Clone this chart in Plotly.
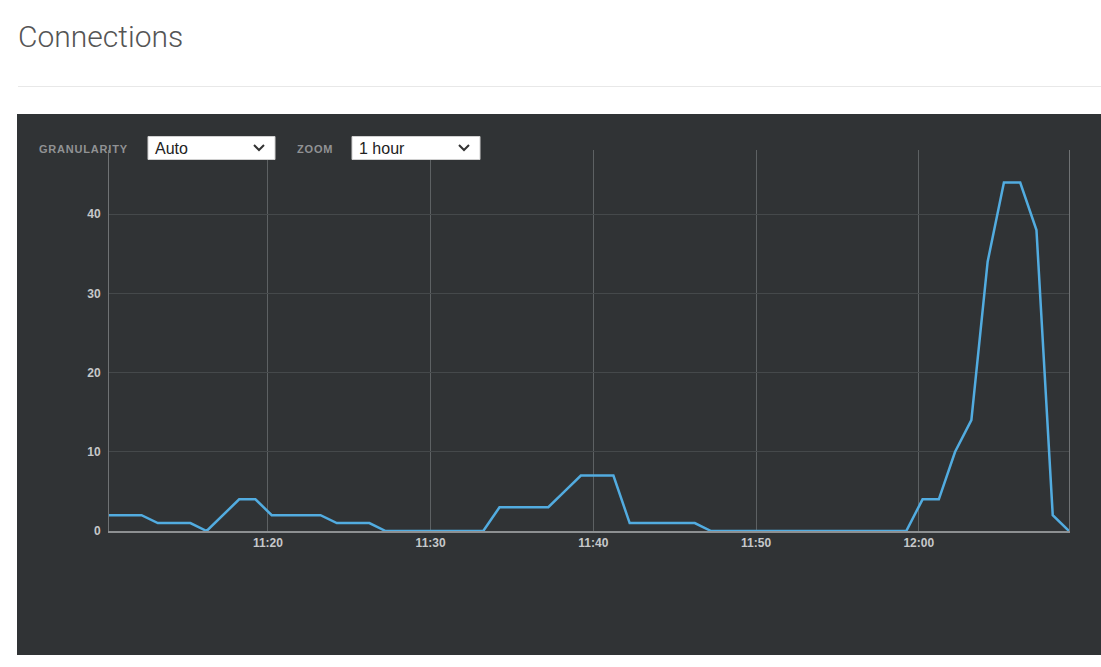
import pandas as pd
import plotly.graph_objects as go

# ---- data ----
start_time = "2024-01-01 11:10:14"
n_points = 60
connections = [2, 2, 2, 1, 1, 1, 0, 2, 4, 4,
               2, 2, 2, 2, 1, 1, 1, 0, 0, 0,
               0, 0, 0, 0, 3, 3, 3, 3, 5, 7,
               7, 7, 1, 1, 1, 1, 1, 0, 0, 0,
               0, 0, 0, 0, 0, 0, 0, 0, 0, 0,
               4, 4, 10, 14, 34, 44, 44, 38, 2, 0]
y_ticks = [0, 10, 20, 30, 40]
granularity_options = ["Auto"]
zoom_options = ["1 hour"]

times = pd.date_range(start_time, periods=n_points, freq="1min")

W, H = 1101, 667
L, R, T, B = 109, 1069, 150, 531


def px(x):
    return (x - L) / (R - L)


def py(y):
    return (B - y) / (B - T)


fig = go.Figure()
fig.add_trace(go.Scatter(
    x=times, y=connections, mode="lines",
    line=dict(color="#52ace0", width=2.5),
    hoverinfo="x+y", showlegend=False,
))

shapes = []
# dark panel
shapes.append(dict(type="rect", xref="paper", yref="paper",
                   x0=px(17), x1=px(1101), y0=py(655), y1=py(114),
                   fillcolor="#303335", line=dict(width=0), layer="below"))
# separator under title
shapes.append(dict(type="line", xref="paper", yref="paper",
                   x0=px(18), x1=px(1101), y0=py(86.5), y1=py(86.5),
                   line=dict(color="#e8e8e8", width=1), layer="below"))

annotations = []
annotations.append(dict(text="Connections", xref="paper", yref="paper",
                        x=px(16), y=py(36), xanchor="left", yanchor="middle",
                        showarrow=False,
                        font=dict(family="Roboto, Lato, sans-serif", size=30,
                                  color="#555555", weight=300)))


def select_box(x0, x1, label):
    shapes.append(dict(type="rect", xref="paper", yref="paper",
                       x0=px(x0), x1=px(x1), y0=py(159.5), y1=py(136.5),
                       fillcolor="#ffffff", line=dict(color="#d0d0d0", width=1),
                       layer="above"))
    # chevron
    cx = x1 - 16
    shapes.append(dict(type="path", xref="paper", yref="paper",
                       path=f"M {px(cx-5)} {py(145)} L {px(cx)} {py(150)} L {px(cx+5)} {py(145)}",
                       line=dict(color="#333333", width=2), layer="above"))
    annotations.append(dict(text=label, xref="paper", yref="paper",
                            x=px(x0 + 5), y=py(148), xanchor="left", yanchor="middle",
                            showarrow=False,
                            font=dict(family="Liberation Sans, Arial, sans-serif",
                                      size=16, color="#222222")))


for text, x in [("GRANULARITY", 37), ("ZOOM", 295)]:
    annotations.append(dict(text=f'<span style="letter-spacing:0.8px">{text}</span>',
                            xref="paper", yref="paper",
                            x=px(x), y=py(149), xanchor="left", yanchor="middle",
                            showarrow=False,
                            font=dict(family="Liberation Sans, Arial, sans-serif",
                                      size=11, color="#909294", weight="bold")))

select_box(148, 275, granularity_options[0])
select_box(352, 480, zoom_options[0])

tick_font = dict(family="Liberation Sans, Arial, sans-serif", size=12,
                 color="#c6c8ca", weight="bold")

fig.update_layout(
    width=W, height=H, autosize=False,
    margin=dict(l=L, r=W - R, t=T, b=H - B, pad=0),
    paper_bgcolor="#ffffff",
    plot_bgcolor="rgba(0,0,0,0)",
    shapes=shapes,
    annotations=annotations,
    xaxis=dict(
        type="date",
        range=[times[0], times[-1]],
        tick0="2024-01-01 11:00:00", dtick=600000,
        tickformat="%H:%M",
        showgrid=True, gridcolor="#5d6163", gridwidth=1,
        showline=True, linecolor="#8d9092", linewidth=1.5,
        zeroline=False, ticks="",
        tickfont=tick_font,
        fixedrange=True,
    ),
    yaxis=dict(
        range=[0, 48.1],
        tickvals=y_ticks,
        showgrid=True, gridcolor="#45494b", gridwidth=1,
        showline=True, linecolor="#6f7274", linewidth=1, mirror=True,
        zeroline=False, ticks="",
        tickfont=tick_font,
        ticklabelstandoff=5,
        fixedrange=True,
    ),
)

fig.write_html("out.html")
